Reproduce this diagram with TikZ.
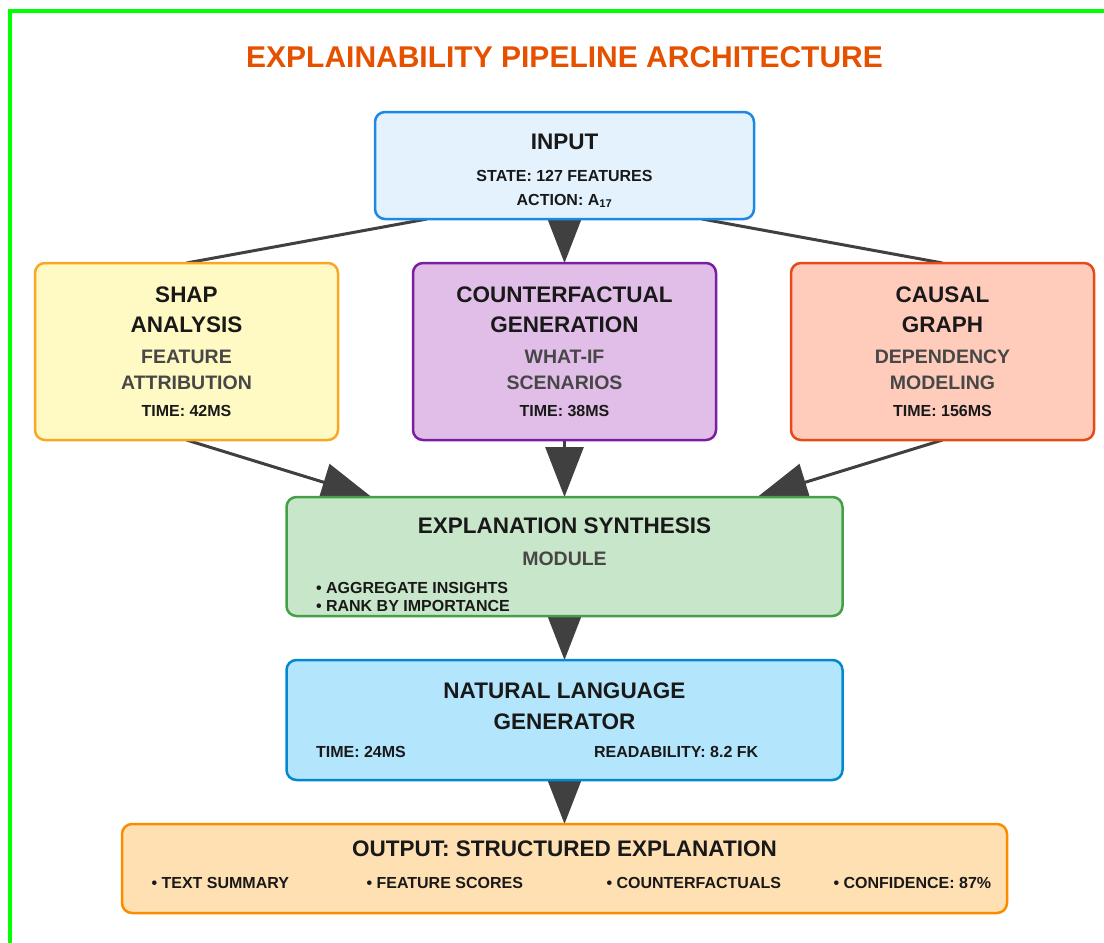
\documentclass[tikz,border=0pt]{standalone}
\usepackage{fontspec}
\setmainfont{Liberation Sans}
\usetikzlibrary{positioning,arrows.meta,calc,backgrounds}

\definecolor{ttl}{HTML}{E65100}
\definecolor{frm}{HTML}{00FF00}
\definecolor{arrgray}{HTML}{404040}
\definecolor{inB}{HTML}{1E88E5}\definecolor{inF}{HTML}{E3F2FD}
\definecolor{shB}{HTML}{F9A825}\definecolor{shF}{HTML}{FFF9C4}
\definecolor{cfB}{HTML}{7B1FA2}\definecolor{cfF}{HTML}{E1BEE7}
\definecolor{caB}{HTML}{E64A19}\definecolor{caF}{HTML}{FFCCBC}
\definecolor{syB}{HTML}{43A047}\definecolor{syF}{HTML}{C8E6C9}
\definecolor{nlB}{HTML}{0288D1}\definecolor{nlF}{HTML}{B3E5FC}
\definecolor{ouB}{HTML}{FB8C00}\definecolor{ouF}{HTML}{FFE0B2}

\begin{document}
\begin{tikzpicture}[x=1pt, y=-1pt,
  panel/.style={rounded corners=10pt, line width=2.5pt, inner sep=0pt, outer sep=0pt},
  mid/.style={panel, minimum width=303pt, minimum height=177pt},
  hd/.style={font=\bfseries\fontsize{22.5}{30}\selectfont, align=center, text=black!90},
  sub/.style={font=\bfseries\fontsize{19.5}{26}\selectfont, align=center, text=black!72},
  sm/.style={font=\bfseries\fontsize{16}{18}\selectfont, align=left, text=black!90},
  arr/.style={-{Triangle[length=50pt, width=38pt]}, line width=3pt, draw=arrgray, fill=arrgray},
  lnk/.style={line width=3pt, draw=arrgray}]
\useasboundingbox (0,0) rectangle (1104,943);
\draw[frm, line width=4pt] (10,950) -- (10,11) -- (1110,11);

\node[font=\bfseries\fontsize{30}{36}\selectfont, text=ttl] (title) at (564.5,57)
  {EXPLAINABILITY PIPELINE ARCHITECTURE};

% boxes
\node[panel, draw=inB, fill=inF, minimum width=379pt, minimum height=107pt] (input) at (564.5,165.5) {};
\node[mid, draw=cfB, fill=cfF, below=44pt of input] (cf) {};
\node[mid, draw=shB, fill=shF, left=75pt of cf] (shap) {};
\node[mid, draw=caB, fill=caF, right=75pt of cf] (causal) {};
\node[panel, draw=syB, fill=syF, minimum width=556pt, minimum height=119pt, below=57pt of cf] (synth) {};
\node[panel, draw=nlB, fill=nlF, minimum width=556pt, minimum height=120pt, below=44pt of synth] (nlg) {};
\node[panel, draw=ouB, fill=ouF, minimum width=885pt, minimum height=89pt, below=44pt of nlg] (out) {};

% texts
\node[hd] (inT) at ([yshift=-30pt]input.north) {INPUT};
\node[sm, align=center, font=\bfseries\fontsize{16}{24}\selectfont] (inS) at ([yshift=-77pt]input.north)
  {STATE: 127 FEATURES\\ACTION: A\textsubscript{17}};

\node[hd] (shapT) at ([yshift=-47pt]shap.north) {SHAP\\ANALYSIS};
\node[sub] (shapS) at ([yshift=-107pt]shap.north) {FEATURE\\ATTRIBUTION};
\node[sm] (shapM) at ([yshift=-148pt]shap.north) {TIME: 42MS};

\node[hd] (cfT) at ([yshift=-47pt]cf.north) {COUNTERFACTUAL\\GENERATION};
\node[sub] (cfS) at ([yshift=-107pt]cf.north) {WHAT-IF\\SCENARIOS};
\node[sm] (cfM) at ([yshift=-148pt]cf.north) {TIME: 38MS};

\node[hd] (causalT) at ([yshift=-47pt]causal.north) {CAUSAL\\GRAPH};
\node[sub] (causalS) at ([yshift=-107pt]causal.north) {DEPENDENCY\\MODELING};
\node[sm] (causalM) at ([yshift=-148pt]causal.north) {TIME: 156MS};

\node[hd] (synthT) at ([yshift=-29pt]synth.north) {EXPLANATION SYNTHESIS};
\node[sub] (synthS) at ([yshift=-62pt]synth.north) {MODULE};
\node[sm, anchor=west] (synthB) at ([xshift=26pt, yshift=-100pt]synth.north west)
  {• AGGREGATE INSIGHTS\\• RANK BY IMPORTANCE};

\node[hd, font=\bfseries\fontsize{22.5}{31}\selectfont] (nlgT) at ([yshift=-46.5pt]nlg.north) {NATURAL LANGUAGE\\GENERATOR};
\node[sm, anchor=west] (nlgA) at ([xshift=26pt, yshift=-92pt]nlg.north west) {TIME: 24MS};
\node[sm, anchor=west] (nlgB) at ([xshift=304pt, yshift=-92pt]nlg.north west) {READABILITY: 8.2 FK};

\node[hd] (outT) at ([yshift=-25pt]out.north) {OUTPUT: STRUCTURED EXPLANATION};
\node[sm, anchor=west] (outA) at ([xshift=26pt, yshift=-59pt]out.north west) {• TEXT SUMMARY};
\node[sm, anchor=west] (outB) at ([xshift=241pt, yshift=-59pt]out.north west) {• FEATURE SCORES};
\node[sm, anchor=west] (outC) at ([xshift=481pt, yshift=-59pt]out.north west) {• COUNTERFACTUALS};
\node[sm, anchor=west] (outD) at ([xshift=708pt, yshift=-59pt]out.north west) {• CONFIDENCE: 87\%};

% connectors
\begin{scope}[on background layer]
\draw[lnk] ($(input.south west)!0.137!(input.south east)$) -- (shap.north);
\draw[lnk] ($(input.south east)!0.137!(input.south west)$) -- (causal.north);
\draw[arr] (input) -- (cf);
\draw[arr] (shap.south) -- ($(synth.north west)!0.153!(synth.north east)$);
\draw[arr] (cf) -- (synth);
\draw[arr] (causal.south) -- ($(synth.north east)!0.153!(synth.north west)$);
\draw[arr] (synth) -- (nlg);
\draw[arr] (nlg) -- (out);
\end{scope}
\end{tikzpicture}
\end{document}
